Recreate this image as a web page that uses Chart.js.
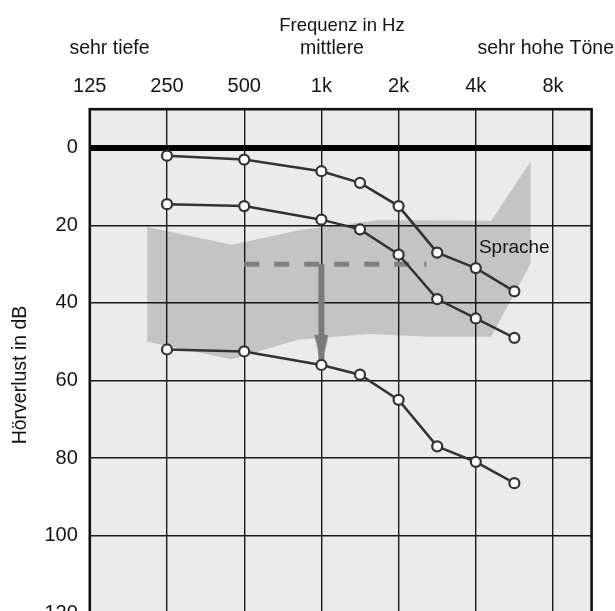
<!DOCTYPE html>
<html>
<head>
<meta charset="utf-8">
<script src="https://cdn.jsdelivr.net/npm/chart.js@4.4.1/dist/chart.umd.min.js"></script>
<style>
  html, body { margin: 0; padding: 0; background: #fff; overflow: hidden; width: 615px; height: 611px; }
  #wrap { width: 615px; height: 611px; overflow: hidden; position: relative; }
  canvas { display: block; }
</style>
</head>
<body>
<div id="wrap"><canvas id="audiogram" width="615" height="625"></canvas></div>
<script>
// Octave tick labels along the top axis and hearing-level ticks on the left
const octaveLabels = ['125', '250', '500', '1k', '2k', '4k', '8k'];
const dbTicks = [0, 20, 40, 60, 80, 100, 120];

// Test frequencies (Hz) and the three measured thresholds (dB HL)
const testFreqs = [250, 500, 1000, 1500, 2000, 3000, 4000, 6000];
const thresholdsMild = [2, 3, 6, 9, 15, 27, 31, 37];
const thresholdsModerate = [14.5, 15, 18.5, 21, 27.5, 39, 44, 49];
const thresholdsSevere = [52, 52.5, 56, 58.5, 65, 77, 81, 86.5];

// Outline of the speech area ("Sprache"), traced clockwise
const speechFreqs = [218, 460, 860, 1750, 4800, 6840, 6840, 4800, 2800, 1620, 850, 460, 218];
const speechDb = [20.4, 25, 21.2, 18.6, 18.8, 3.5, 29.8, 48.7, 48.7, 48, 49.5, 54.5, 50];

// Average speech level and the shift down to the severe threshold at 1 kHz
const speechLevelFreqs = [500, 2720];
const speechLevelDb = [30, 30];
const shiftFreqs = [1000, 1000];
const shiftDb = [30, 56];

// Audiogram axis: one unit per octave from 125 Hz, linear inside an octave
function octavePos(f) {
  const i = Math.floor(Math.log2(f / 125) + 1e-9);
  const base = 125 * Math.pow(2, i);
  return i + (f - base) / base;
}
const toPoints = (freqs, levels) => freqs.map((f, i) => ({ x: octavePos(f), y: levels[i] }));

// Arrow head as a point image: tip sits at the image centre
const arrowHead = document.createElement('canvas');
arrowHead.width = 14;
arrowHead.height = 60;
(function () {
  const g = arrowHead.getContext('2d');
  g.fillStyle = '#7a7a7a';
  g.beginPath();
  g.moveTo(0, 0);
  g.lineTo(14, 0);
  g.lineTo(7, 30);
  g.closePath();
  g.fill();
})();

const FONT = 'Liberation Sans, Arial, sans-serif';
const INK = '#141414';

const seriesStyle = {
  borderColor: '#333',
  borderWidth: 2.5,
  pointRadius: 5,
  pointBorderWidth: 2.2,
  pointBackgroundColor: '#fff',
  pointBorderColor: '#333',
  fill: false,
  tension: 0,
  order: 0
};

const frame = {
  id: 'frame',
  beforeDraw(chart) {
    const { ctx, chartArea: a } = chart;
    ctx.save();
    ctx.fillStyle = '#ebebeb';
    ctx.fillRect(a.left, a.top, a.right - a.left, a.bottom - a.top);
    ctx.restore();
  },
  afterDraw(chart) {
    const { ctx, chartArea: a, scales } = chart;
    ctx.save();
    ctx.strokeStyle = '#111';
    ctx.lineWidth = 2.6;
    ctx.strokeRect(a.left, a.top, a.right - a.left, a.bottom - a.top);

    ctx.fillStyle = INK;
    ctx.textBaseline = 'alphabetic';
    ctx.font = '18.5px ' + FONT;
    ctx.textAlign = 'center';
    ctx.fillText('Frequenz in Hz', 342, 31);
    ctx.font = '19.5px ' + FONT;
    ctx.fillText('mittlere', 332, 54);
    ctx.fillText('sehr tiefe', 109.5, 54);
    ctx.textAlign = 'right';
    ctx.fillText('sehr hohe Töne', 614, 54);

    // speech area label
    ctx.textAlign = 'left';
    ctx.font = '19px ' + FONT;
    ctx.fillText('Sprache', scales.x.getPixelForValue(octavePos(4160)), scales.y.getPixelForValue(27.1));

    // vertical axis title
    ctx.translate(26, 375);
    ctx.rotate(-Math.PI / 2);
    ctx.textAlign = 'center';
    ctx.font = '19.5px ' + FONT;
    ctx.fillText('Hörverlust in dB', 0, 0);
    ctx.restore();
  }
};

new Chart(document.getElementById('audiogram'), {
  type: 'line',
  data: {
    datasets: [
      { data: toPoints(testFreqs, thresholdsMild), ...seriesStyle },
      { data: toPoints(testFreqs, thresholdsModerate), ...seriesStyle },
      { data: toPoints(testFreqs, thresholdsSevere), ...seriesStyle },
      {
        data: toPoints(shiftFreqs, shiftDb),
        borderColor: '#7a7a7a',
        borderWidth: 6,
        borderCapStyle: 'butt',
        pointStyle: arrowHead,
        pointRadius: [0, 5],
        fill: false,
        order: 4
      },
      {
        data: toPoints(speechLevelFreqs, speechLevelDb),
        borderColor: '#808080',
        borderWidth: 5,
        borderDash: [15, 15],
        borderCapStyle: 'butt',
        pointRadius: 0,
        fill: false,
        order: 5
      },
      {
        data: toPoints(speechFreqs, speechDb),
        borderWidth: 0,
        borderColor: 'rgba(0,0,0,0)',
        backgroundColor: 'rgba(0,0,0,0.165)',
        pointRadius: 0,
        fill: 'shape',
        order: 10
      }
    ]
  },
  options: {
    responsive: false,
    animation: false,
    events: [],
    devicePixelRatio: 1,
    layout: { padding: { top: 0, left: 0, right: 23.4, bottom: 12 } },
    plugins: { legend: { display: false }, tooltip: { enabled: false } },
    scales: {
      x: {
        type: 'linear',
        position: 'top',
        min: 0,
        max: 6.5,
        afterBuildTicks: s => { s.ticks = octaveLabels.map((_, i) => ({ value: i })); },
        afterFit: s => { s.height = 109.2; s.paddingLeft = 0; s.paddingRight = 0; },
        border: { display: false },
        grid: { color: '#1a1a1a', lineWidth: 1.4, drawTicks: false },
        ticks: {
          padding: 11,
          color: INK,
          autoSkip: false,
          maxRotation: 0,
          font: { family: FONT, size: 20 },
          callback: v => octaveLabels[v]
        }
      },
      y: {
        type: 'linear',
        reverse: true,
        min: -10,
        max: 120,
        afterBuildTicks: s => { s.ticks = dbTicks.map(v => ({ value: v })); },
        afterFit: s => { s.width = 89.8; s.paddingTop = 0; s.paddingBottom = 0; },
        border: { display: false },
        grid: {
          drawTicks: false,
          color: c => (c.tick && c.tick.value === 0 ? '#000' : '#1a1a1a'),
          lineWidth: c => (c.tick && c.tick.value === 0 ? 6 : 1.4)
        },
        ticks: {
          padding: 12,
          color: INK,
          font: { family: FONT, size: 20 }
        }
      }
    }
  },
  plugins: [frame]
});
</script>
</body>
</html>
